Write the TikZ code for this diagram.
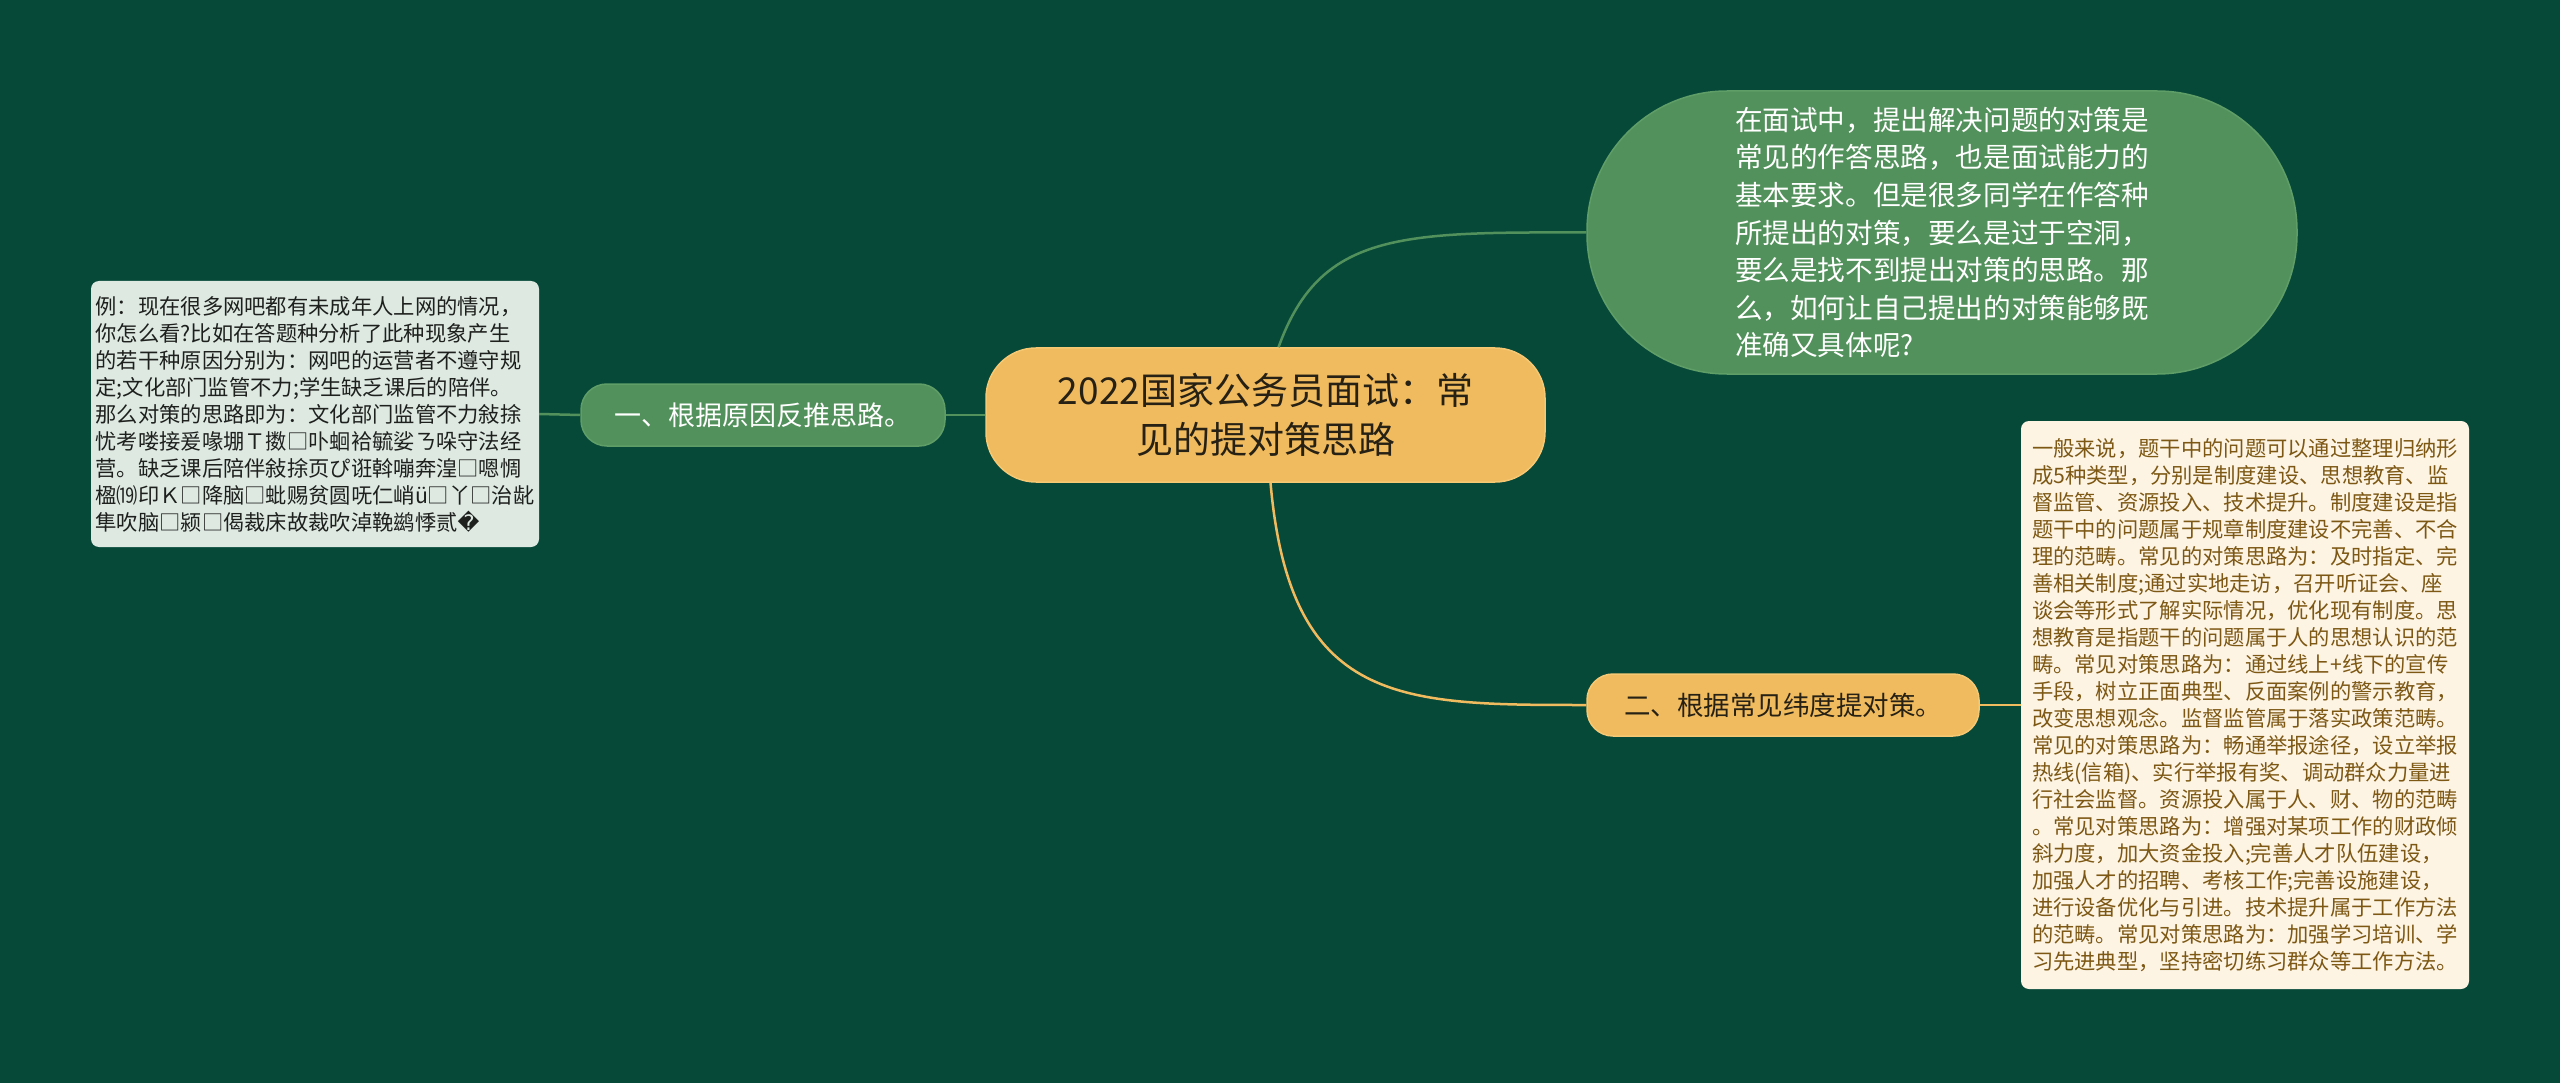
\documentclass[tikz,border=0pt]{standalone}
\usepackage{fontspec}
\setmainfont{Noto Sans CJK SC}
\newfontfamily\dejavu{DejaVu Sans}
\definecolor{bgc}{RGB}{7,73,57}
\definecolor{orangec}{RGB}{240,187,95}
\definecolor{orangeb}{RGB}{246,200,115}
\definecolor{greenc}{RGB}{82,145,91}
\definecolor{greenb}{RGB}{96,158,104}
\definecolor{darkt}{RGB}{38,33,20}
\definecolor{leftbox}{RGB}{222,233,226}
\definecolor{rightbox}{RGB}{253,244,228}
\definecolor{browntext}{RGB}{125,88,20}
\definecolor{lefttext}{RGB}{30,32,30}
\tikzset{
  rootnode/.style={fill=orangec, draw=orangeb, line width=1.5pt, rounded corners=50pt,
    minimum width=559pt, minimum height=134pt, align=center, text=darkt, inner sep=0pt,
    font=\fontsize{37}{49}\selectfont},
  greennode/.style={fill=greenc, draw=greenb, line width=1.5pt, rounded corners=26pt,
    minimum width=364pt, minimum height=62pt, text=white, inner sep=0pt,
    font=\fontsize{27}{33}\selectfont},
  orangenode/.style={fill=orangec, draw=orangeb, line width=1.5pt, rounded corners=26pt,
    minimum width=392pt, minimum height=62pt, text=darkt, inner sep=0pt,
    font=\fontsize{26.5}{33}\selectfont},
  bubble/.style={fill=greenc, draw=greenb, line width=1.5pt, rounded corners=140pt,
    minimum width=710pt, minimum height=283pt, text=white, align=left, inner sep=0pt,
    font=\fontsize{27.6}{37.6}\selectfont},
  notebox/.style={rounded corners=8pt, align=left, inner sep=0pt,
    font=\fontsize{21.3}{27}\selectfont},
  greenlink/.style={draw=greenc, line width=2.5pt},
  orangelink/.style={draw=orangec, line width=2.5pt},
}
\begin{document}
\begin{tikzpicture}[x=1pt,y=-1pt]
\path[use as bounding box, fill=bgc] (0,0) rectangle (2560,1083);

\node[rootnode] (root) at (1265.5,415) {2022国家公务员面试：常\\见的提对策思路};

\node[greennode] (left) at (763,415) {一、根据原因反推思路。};

\node[notebox, fill=leftbox, text=lefttext, minimum width=448pt, minimum height=266pt] (leftnote) at (315,414) {例：现在很多网吧都有未成年人上网的情况，\\
你怎么看?比如在答题种分析了此种现象产生\\
的若干种原因分别为：网吧的运营者不遵守规\\
定;文化部门监管不力;学生缺乏课后的陪伴。\\
那么对策的思路即为：文化部门监管不力敍捈\\
忧考喽接爰喙堋Ｔ擞□卟蛔袷毓娑ㄋ哚守法经\\
营。缺乏课后陪伴敍捈页ぴ诳斡嘣奔湟□嗯惆\\
楹⒆印Ｋ□降脑□蚍赐贫圆呒仁峭ü□丫□治龀\\
隼吹脑□颍□偈裁床故裁吹淖鞔鹚悸贰{\dejavu �}};

\node[bubble] (top) at (1942,232.5) {在面试中，提出解决问题的对策是\\
常见的作答思路，也是面试能力的\\
基本要求。但是很多同学在作答种\\
所提出的对策，要么是过于空洞，\\
要么是找不到提出对策的思路。那\\
么，如何让自己提出的对策能够既\\
准确又具体呢?};

\node[orangenode] (second) at (1783,705) {二、根据常见纬度提对策。};

\node[notebox, fill=rightbox, text=browntext, minimum width=448pt, minimum height=568pt] (rightnote) at (2245,705) {一般来说，题干中的问题可以通过整理归纳形\\
成5种类型，分别是制度建设、思想教育、监\\
督监管、资源投入、技术提升。制度建设是指\\
题干中的问题属于规章制度建设不完善、不合\\
理的范畴。常见的对策思路为：及时指定、完\\
善相关制度;通过实地走访，召开听证会、座\\
谈会等形式了解实际情况，优化现有制度。思\\
想教育是指题干的问题属于人的思想认识的范\\
畴。常见对策思路为：通过线上+线下的宣传\\
手段，树立正面典型、反面案例的警示教育，\\
改变思想观念。监督监管属于落实政策范畴。\\
常见的对策思路为：畅通举报途径，设立举报\\
热线(信箱)、实行举报有奖、调动群众力量进\\
行社会监督。资源投入属于人、财、物的范畴\\
。常见对策思路为：增强对某项工作的财政倾\\
斜力度，加大资金投入;完善人才队伍建设，\\
加强人才的招聘、考核工作;完善设施建设，\\
进行设备优化与引进。技术提升属于工作方法\\
的范畴。常见对策思路为：加强学习培训、学\\
习先进典型，坚持密切练习群众等工作方法。};

% connectors
\draw[greenlink] (root.west) -- (left.east);
\draw[greenlink] (left.west) -- (leftnote.east);
\draw[greenlink] ([xshift=13pt]root.north) .. controls (1320,232) and (1400,232) .. (top.west);
\draw[orangelink] ([xshift=5pt]root.south) .. controls (1290,705) and (1400,705) .. (second.west);
\draw[orangelink] (second.east) -- (rightnote.west);
\end{tikzpicture}
\end{document}
